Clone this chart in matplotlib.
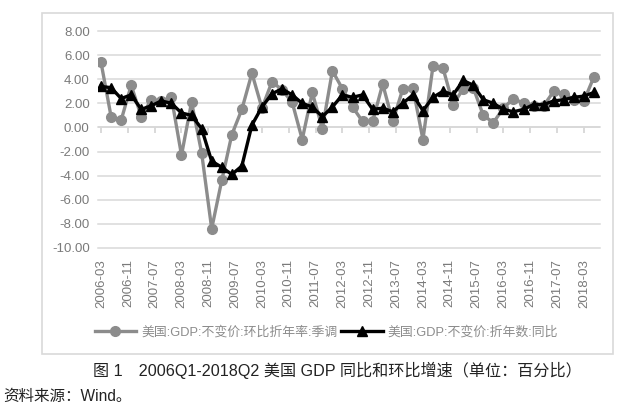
import numpy as np
import pandas as pd
import matplotlib
matplotlib.use('Agg')
import matplotlib.pyplot as plt
from matplotlib.patches import Rectangle

plt.rcParams['font.family'] = ['Liberation Sans', 'Noto Sans CJK SC', 'DejaVu Sans']

# Dane: kwartały 2006Q1-2018Q2
quarters = pd.date_range('2006-03-01', '2018-06-01', freq='3MS')
qoq = [5.4, 0.9, 0.6, 3.5, 0.9, 2.3, 2.2, 2.5, -2.3, 2.1, -2.1, -8.4,
       -4.4, -0.6, 1.5, 4.5, 1.6, 3.8, 3.1, 2.1, -1.0, 2.9, -0.1, 4.7,
       3.2, 1.7, 0.5, 0.5, 3.6, 0.5, 3.2, 3.3, -1.0, 5.1, 4.9, 1.9,
       3.2, 3.3, 1.0, 0.4, 1.6, 2.4, 2.0, 1.8, 1.8, 3.0, 2.8, 2.3,
       2.2, 4.2]
yoy = [3.4, 3.3, 2.4, 2.7, 1.5, 1.8, 2.2, 2.0, 1.2, 1.0, -0.1, -2.8,
       -3.3, -3.9, -3.2, 0.2, 1.7, 2.8, 3.2, 2.7, 2.0, 1.7, 0.9, 1.7,
       2.7, 2.5, 2.7, 1.5, 1.6, 1.3, 2.0, 2.7, 1.4, 2.5, 3.0, 2.7,
       3.9, 3.5, 2.3, 2.0, 1.5, 1.3, 1.5, 1.9, 1.9, 2.2, 2.3, 2.5,
       2.6, 2.9]
label_qoq = '美国:GDP:不变价:环比折年率:季调'
label_yoy = '美国:GDP:不变价:折年数:同比'

# Oś czasu w miesiącach od 2006-03
months = np.array([(d.year - 2006) * 12 + d.month - 3 for d in quarters])
tick_months = np.arange(0, 145, 8)
tick_labels = [f'{2006 + (3 + m - 1) // 12}-{(3 + m - 1) % 12 + 1:02d}' for m in tick_months]

fig = plt.figure(figsize=(6.23, 4.2), dpi=100)
fig.add_artist(Rectangle((42 / 623, 1 - 354 / 420), 571 / 623, 341 / 420,
                         transform=fig.transFigure, facecolor='white',
                         edgecolor='#d9d9d9', lw=1.2, zorder=0))

ax = fig.add_axes([98 / 623, 1 - 248 / 420, 502 / 623, 217 / 420])
ax.set_facecolor('none')

ax.plot(months, qoq, color='#8c8c8c', lw=2.4, marker='o', ms=7,
        label=label_qoq, zorder=3)
ax.plot(months, yoy, color='black', lw=2.4, marker='^', ms=7,
        label=label_yoy, zorder=4)

ax.set_xlim(-0.9, 148.8)
ax.set_ylim(-10, 8)
ax.set_yticks(np.arange(-10, 8.1, 2))
ax.set_yticklabels([f'{v:.2f}' for v in np.arange(-10, 8.1, 2)])
ax.set_xticks(tick_months)
ax.set_xticklabels(tick_labels, rotation=90)
ax.tick_params(axis='both', length=0, colors='#7a7a7a', labelsize=9.5)
ax.tick_params(axis='y', pad=6)
ax.tick_params(axis='x', pad=8)
ax.yaxis.grid(True, color='#d9d9d9', lw=1.1)
for gl in ax.get_ygridlines():
    gl.set_clip_on(False)
for s in ax.spines.values():
    s.set_visible(False)

# oś kategorii na poziomie zera
ax.axhline(0, color='#d0d0d0', lw=1.1, zorder=1)
ax.vlines(tick_months, -0.45, 0, color='#d0d0d0', lw=1.1, zorder=1)

fig.legend(loc='center', bbox_to_anchor=(0.524, 1 - 332 / 420), ncol=2,
           frameon=False, fontsize=9.3, labelcolor='#8c8c8c',
           handlelength=3.2, handletextpad=0.4, columnspacing=0.3)

fig.text(93 / 623, 1 - 370 / 420, '图 1\u30002006Q1-2018Q2 美国 GDP 同比和环比增速（单位：百分比）',
         ha='left', va='center', fontsize=11.6, color='#222222')
fig.text(3 / 623, 1 - 396 / 420, '资料来源：Wind。', ha='left', va='center',
         fontsize=11.2, color='#222222')

fig.savefig('out.png', dpi=100, facecolor='white')
